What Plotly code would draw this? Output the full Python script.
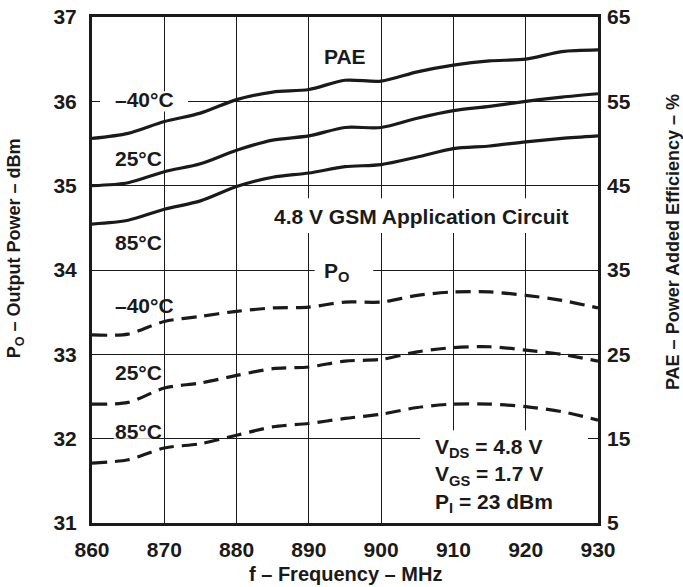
import plotly.graph_objects as go

freq = [860, 865, 870, 875, 880, 885, 890, 895, 900, 905, 910, 915, 920, 925, 930]

# PAE (%), right axis
pae_m40 = [50.6, 51.2, 52.6, 53.6, 55.2, 56.1, 56.4, 57.5, 57.4, 58.5, 59.3, 59.8, 60.0, 60.9, 61.1]
pae_25 = [45.0, 45.35, 46.65, 47.6, 49.2, 50.4, 50.9, 51.9, 51.9, 53.0, 53.9, 54.4, 55.0, 55.5, 55.9]
pae_85 = [40.45, 40.9, 42.2, 43.2, 44.9, 46.0, 46.5, 47.25, 47.5, 48.4, 49.4, 49.7, 50.2, 50.6, 50.9]

# Output power (dBm), left axis
po_m40 = [33.23, 33.24, 33.39, 33.45, 33.51, 33.55, 33.56, 33.62, 33.62, 33.70, 33.74, 33.74, 33.70, 33.64, 33.55]
po_25 = [32.41, 32.43, 32.60, 32.66, 32.75, 32.83, 32.85, 32.92, 32.94, 33.03, 33.08, 33.09, 33.05, 33.00, 32.92]
po_85 = [31.71, 31.75, 31.89, 31.94, 32.04, 32.14, 32.18, 32.24, 32.29, 32.37, 32.41, 32.41, 32.38, 32.32, 32.22]

x_ticks = [860, 870, 880, 890, 900, 910, 920, 930]
y_left_ticks = [31, 32, 33, 34, 35, 36, 37]
y_right_ticks = [5, 15, 25, 35, 45, 55, 65]

FONT = "Liberation Sans, Arial, sans-serif"
INK = "#1a1a1a"

fig = go.Figure()
for ys in (pae_m40, pae_25, pae_85):
    fig.add_trace(go.Scatter(x=freq, y=ys, yaxis="y2", mode="lines",
                             line=dict(color=INK, width=3.2, shape="spline", smoothing=0.8),
                             showlegend=False, hoverinfo="skip"))
for ys in (po_m40, po_25, po_85):
    fig.add_trace(go.Scatter(x=freq, y=ys, yaxis="y", mode="lines",
                             line=dict(color=INK, width=3.2, shape="spline", smoothing=0.8,
                                       dash="15px,8px"),
                             showlegend=False, hoverinfo="skip"))

# white patches that interrupt the grid behind the labels (between grid and data)
def blank(x0, x1, y0, y1):
    fig.add_shape(type="rect", xref="x", yref="y", x0=x0, x1=x1, y0=y0, y1=y1,
                  fillcolor="white", line=dict(width=0), layer="between")

blank(861.1, 873.3, 35.88, 36.12)   # -40C PAE label
blank(883.9, 927.1, 34.44, 34.85)   # GSM text
blank(863.0, 868.8, 32.00, 32.17)   # 85C PO label
blank(890.8, 898.9, 33.88, 34.09)   # PO label
blank(905.4, 928.6, 31.0, 32.10)    # conditions box

lab = dict(family=FONT, size=21, color=INK)
anns = [
    dict(x=895.0, y=36.53, text="<b>PAE</b>", xanchor="center"),
    dict(x=862.9, y=36.02, text="<b>–40°C</b>", xanchor="left"),
    dict(x=862.9, y=35.32, text="<b>25°C</b>", xanchor="left"),
    dict(x=862.9, y=34.33, text="<b>85°C</b>", xanchor="left"),
    dict(x=905.5, y=34.64, text="<b>4.8 V GSM Application Circuit</b>", xanchor="center"),
    dict(x=891.8, y=33.98, text="<b>P<sub>O</sub></b>", xanchor="left"),
    dict(x=862.9, y=33.58, text="<b>–40°C</b>", xanchor="left"),
    dict(x=862.9, y=32.79, text="<b>25°C</b>", xanchor="left"),
    dict(x=862.9, y=32.08, text="<b>85°C</b>", xanchor="left"),
    dict(x=907.2, y=31.56, text="<b>V<sub>DS</sub> = 4.8 V<br>V<sub>GS</sub> = 1.7 V<br>P<sub>I</sub> = 23 dBm</b>",
         xanchor="left", align="left"),
]
for a in anns:
    fig.add_annotation(xref="x", yref="y", showarrow=False, font=lab, yanchor="middle", **a)

# axis titles
fig.add_annotation(xref="paper", yref="paper", x=0.5, y=-0.1, showarrow=False,
                   text="<b>f – Frequency – MHz</b>", font=dict(family=FONT, size=20, color=INK),
                   xanchor="center", yanchor="middle")
fig.add_annotation(xref="paper", yref="paper", x=-0.152, y=0.543, showarrow=False, textangle=-90,
                   text="<b>P<sub>O</sub> – Output Power – dBm</b>", font=dict(family=FONT, size=18, color=INK),
                   xanchor="center", yanchor="middle")
fig.add_annotation(xref="paper", yref="paper", x=1.148, y=0.555, showarrow=False, textangle=-90,
                   text="<b>PAE – Power Added Efficiency – %</b>", font=dict(family=FONT, size=18, color=INK),
                   xanchor="center", yanchor="middle")

tickfont = dict(family=FONT, size=21, color=INK)
fig.update_layout(
    width=683, height=587, autosize=False,
    margin=dict(l=92, r=85, t=17, b=64, autoexpand=False),
    paper_bgcolor="white", plot_bgcolor="white",
    xaxis=dict(range=[860, 930], tickvals=x_ticks, ticktext=[f"<b>{v}</b>" for v in x_ticks],
               showgrid=True, gridcolor=INK, gridwidth=1, zeroline=False, automargin=False,
               showline=True, linecolor=INK, linewidth=3, mirror=True,
               ticks="", ticklabelstandoff=6, tickfont=tickfont),
    yaxis=dict(range=[31, 37], tickvals=y_left_ticks, ticktext=[f"<b>{v}</b>" for v in y_left_ticks],
               showgrid=True, gridcolor=INK, gridwidth=1, zeroline=False, automargin=False,
               showline=True, linecolor=INK, linewidth=3, mirror=True,
               ticks="", ticklabelstandoff=8, tickfont=tickfont),
    yaxis2=dict(range=[5, 65], tickvals=y_right_ticks, ticktext=[f"<b>{v}</b>" for v in y_right_ticks],
                overlaying="y", side="right", showgrid=False, zeroline=False, showline=False,
                automargin=False, ticks="", ticklabelstandoff=8, tickfont=tickfont),
)

fig.write_html("out.html", config={"displayModeBar": False})

# remove the browser's default page margin so the figure sits at the window origin
with open("out.html", "r", encoding="utf-8") as fh:
    html = fh.read()
html = html.replace("<head>", "<head><style>html,body{margin:0;padding:0;overflow:hidden;}</style>", 1)
with open("out.html", "w", encoding="utf-8") as fh:
    fh.write(html)
